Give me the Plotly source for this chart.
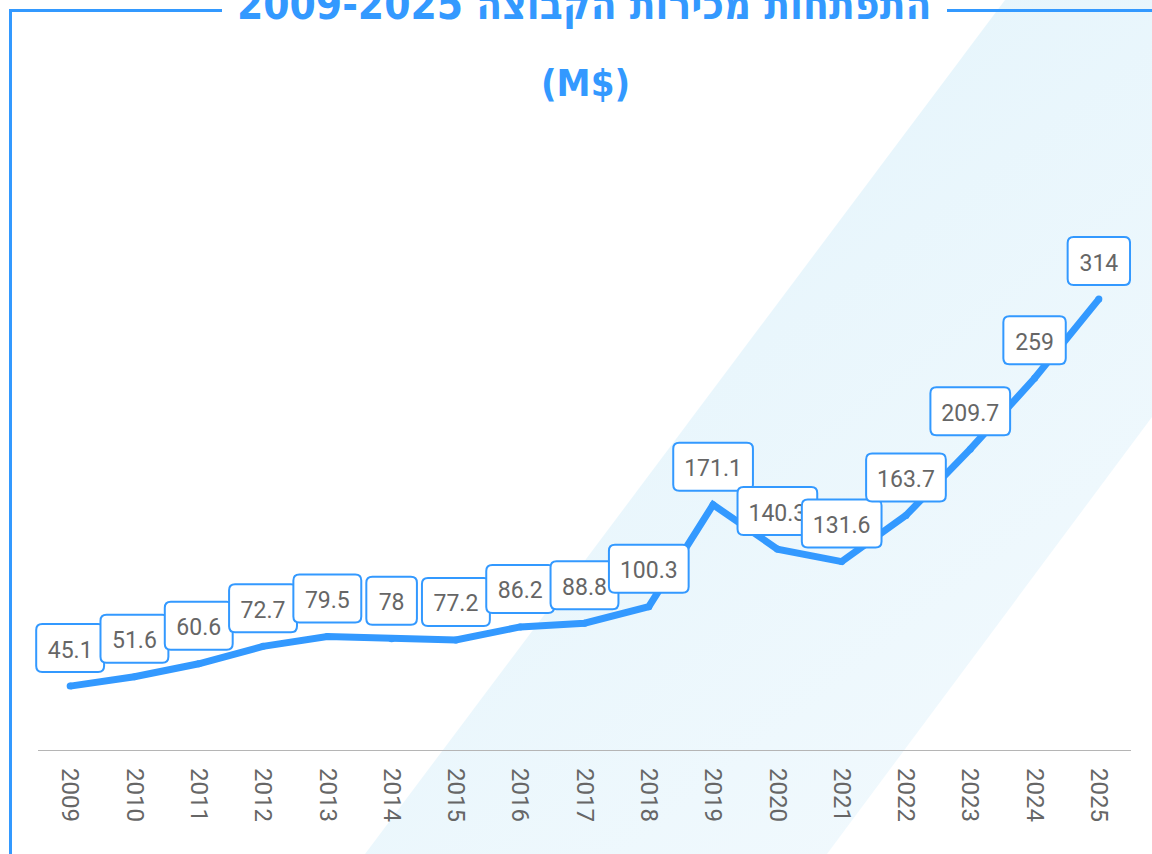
import base64
import plotly.graph_objects as go

# ---------------- data ----------------
years = ["2009", "2010", "2011", "2012", "2013", "2014", "2015", "2016", "2017",
         "2018", "2019", "2020", "2021", "2022", "2023", "2024", "2025"]
sales = [45.1, 51.6, 60.6, 72.7, 79.5, 78, 77.2, 86.2, 88.8,
         100.3, 171.1, 140.3, 131.6, 163.7, 209.7, 259, 314]
title_text = "התפתחות מכירות הקבוצה 2009-2025"
subtitle_text = "(M$)"

# ---------------- layout constants ----------------
W, H = 1152, 854
AX_L, AX_R = 38, 1131          # visible axis line extent (px)
ML, MR, MT, MB = 18, W - AX_R, 150, 103
PW, PH = W - ML - MR, H - MT - MB
CAT_W = (AX_R - AX_L) / len(years)
X_MIN = -0.5 - (AX_L - ML) / CAT_W
Y_MAX = PH / 1.4392
BLUE = "#3399ff"
GREY = "#666666"
LBL_FS = 23


def px_x(px):
    return (px - ML) / PW


def px_y(py):
    return (H - MB - py) / PH


def rounded_rect(x0, y0, x1, y1, r):
    return (f"M {x0 + r},{y0} L {x1 - r},{y0} Q {x1},{y0} {x1},{y0 + r} "
            f"L {x1},{y1 - r} Q {x1},{y1} {x1 - r},{y1} L {x0 + r},{y1} "
            f"Q {x0},{y1} {x0},{y1 - r} L {x0},{y0 + r} Q {x0},{y0} {x0 + r},{y0} Z")


fig = go.Figure()
fig.add_trace(go.Scatter(
    x=years, y=sales, mode="lines+markers",
    line=dict(color=BLUE, width=7),
    marker=dict(color=BLUE, size=7),
    hoverinfo="x+y", showlegend=False,
))

shapes = []
# frame
shapes.append(dict(type="line", xref="paper", yref="paper",
                   x0=px_x(10.5), x1=px_x(10.5), y0=px_y(9), y1=px_y(870),
                   line=dict(color=BLUE, width=3), layer="below"))
shapes.append(dict(type="line", xref="paper", yref="paper",
                   x0=px_x(9), x1=px_x(222), y0=px_y(10.5), y1=px_y(10.5),
                   line=dict(color=BLUE, width=3), layer="below"))
shapes.append(dict(type="line", xref="paper", yref="paper",
                   x0=px_x(947), x1=px_x(1170), y0=px_y(10.5), y1=px_y(10.5),
                   line=dict(color=BLUE, width=3), layer="below"))
# category axis baseline
shapes.append(dict(type="line", xref="paper", yref="y",
                   x0=px_x(AX_L), x1=px_x(AX_R), y0=0, y1=0,
                   line=dict(color="#b5b5b5", width=2), layer="below"))

# data label boxes
for i, v in enumerate(sales):
    txt = f"{v:g}"
    tw = sum(0.262 * 21 if c == "." else 0.562 * 21 for c in txt)
    w = tw + 27
    shapes.append(dict(
        type="path", xref="x", yref="y",
        xsizemode="pixel", ysizemode="pixel", xanchor=i, yanchor=v,
        path=rounded_rect(-w / 2, 14, w / 2, 62, 6),
        fillcolor="white", line=dict(color=BLUE, width=2), layer="above",
        label=dict(text=txt, font=dict(family="Roboto", size=LBL_FS, color=GREY),
                   textposition="middle center"),
    ))

# background band (decorative)
svg = f"""<svg xmlns='http://www.w3.org/2000/svg' width='{W}' height='{H}' viewBox='0 0 {W} {H}' preserveAspectRatio='none'>
<defs><linearGradient id='g' x1='0' y1='0' x2='1' y2='1'>
<stop offset='0' stop-color='#e1f3fb'/><stop offset='1' stop-color='#f6fbfe'/></linearGradient></defs>
<polygon points='1005,0 1462,0 827,854 365,854' fill='url(#g)'/></svg>"""
src = "data:image/svg+xml;base64," + base64.b64encode(svg.encode()).decode()

fig.update_layout(
    width=W, height=H,
    margin=dict(l=ML, r=MR, t=MT, b=MB, pad=0),
    paper_bgcolor="white", plot_bgcolor="rgba(0,0,0,0)",
    shapes=shapes,
    images=[dict(source=src, xref="paper", yref="paper", x=px_x(0), y=px_y(0),
                  sizex=W / PW, sizey=H / PH, xanchor="left", yanchor="top",
                  sizing="stretch", layer="below")],
    xaxis=dict(type="category", range=[X_MIN, len(years) - 0.5],
               showgrid=False, zeroline=False, showline=False, ticks="",
               tickangle=90, ticklabelstandoff=16,
               tickfont=dict(family="Roboto", size=24, color=GREY)),
    yaxis=dict(range=[0, Y_MAX], visible=False, showgrid=False, zeroline=False),
    annotations=[
        dict(text="\u202b" + title_text + "\u202c", xref="paper", yref="paper",
             x=px_x(584), y=px_y(4), xanchor="center", yanchor="middle",
             showarrow=False,
             font=dict(family="DejaVu Sans Condensed", size=42, color=BLUE, weight="bold")),
        dict(text=subtitle_text, xref="paper", yref="paper",
             x=px_x(585), y=px_y(83), xanchor="center", yanchor="middle",
             showarrow=False,
             font=dict(family="DejaVu Sans Condensed", size=38, color=BLUE, weight="bold")),
    ],
)

fig.write_html("out.html", config={"displayModeBar": False},
               post_script="document.body.style.margin='0';")
